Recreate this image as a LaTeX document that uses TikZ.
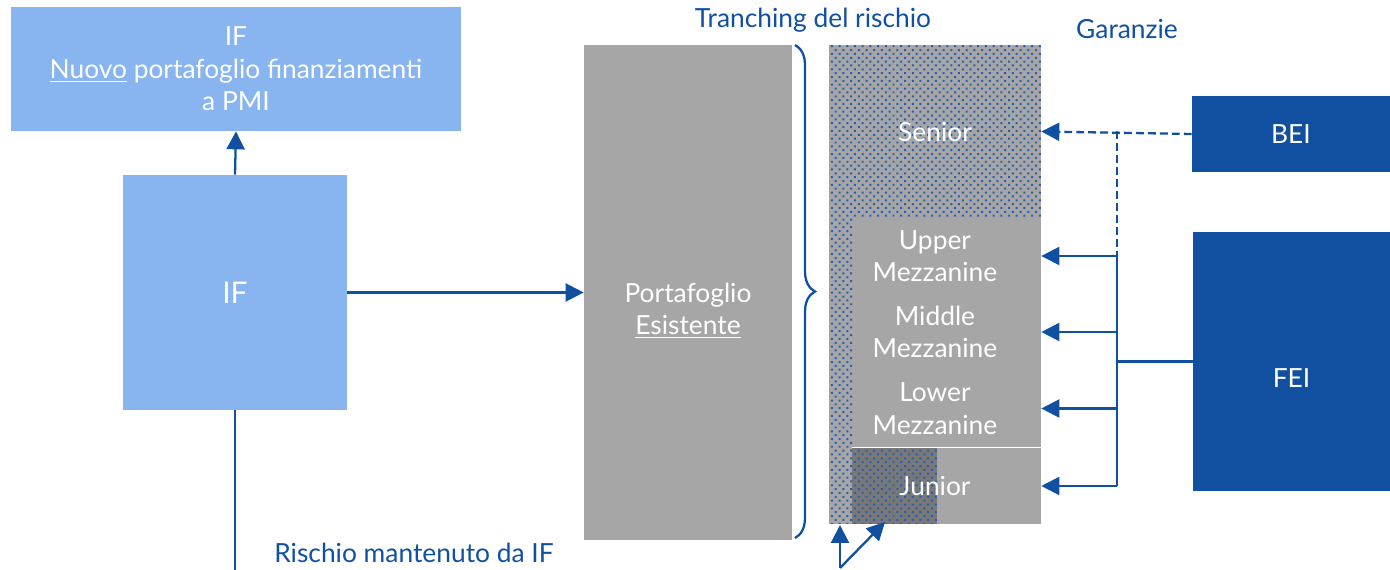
\documentclass[tikz,border=0pt]{standalone}
\usepackage{fontspec}
\setmainfont{Lato}
\usepackage{tikz}
\usepackage{color}
\usetikzlibrary{arrows, arrows.meta, patterns.meta, decorations.pathreplacing}
\definecolor{lightblue}{HTML}{88B4F0}
\definecolor{darkblue}{HTML}{1150A0}
\definecolor{dotblue}{HTML}{2A5EB0}
\definecolor{tgray}{HTML}{A6A6A6}
\definecolor{dgray}{HTML}{787878}
\tikzstyle{arrow} = [line width=1.3pt,-{Triangle[length=0.36cm,width=0.36cm]},darkblue]
\tikzstyle{link} = [line width=1.3pt,darkblue]
\tikzstyle{guarantee} = [dash pattern=on 4.5pt off 2.3pt]
\tikzstyle{lbox} = [fill=lightblue,text=white,align=center,inner sep=0pt]
\tikzstyle{dbox} = [fill=darkblue,text=white,align=center,inner sep=0pt]
\tikzstyle{tranche} = [text=white,align=center,inner sep=0pt,minimum width=4.24cm]
\tikzstyle{title} = [text=darkblue,inner sep=0pt]
\tikzstyle{dotted fill} = [pattern={Dots[radius=0.8pt,distance=3.1pt,angle=45]},pattern color=dotblue]

\begin{document}
\begin{tikzpicture}[x=0.02cm,y=-0.02cm,font=\fontsize{15}{18.5}\selectfont]
\useasboundingbox (0,0) rectangle (1390,570);

% left boxes
\node[lbox,minimum width=9cm,minimum height=2.48cm] (nuovo) at (236,69)
  {IF\\\underline{Nuovo} portafoglio finanziamenti\\a PMI};
\node[lbox,minimum width=4.48cm,minimum height=4.7cm,font=\fontsize{17}{20}\selectfont] (if) at (235,292.5) {IF};
\node[fill=tgray,text=white,align=center,inner sep=0pt,minimum width=4.16cm,minimum height=9.9cm,
  text height=2.2cm,text depth=0.5cm] (port) at (688,292.5)
  {Portafoglio\\\underline{Esistente}};

\draw[arrow] (if.north) -- (nuovo.south);
\draw[arrow] (if.east) -- (port.west);
\coordinate (down) at (235,570);
\draw[link] (if.south) -- (down);
\node[title] (rischio) at (414,553) {Rischio mantenuto da IF};

% brace
\draw[link,decorate,decoration={brace,amplitude=0.4cm}] (795,45) -- (795,538);
\node[title] (tranching) at (813,20) {Tranching del rischio};

% tranches
\fill[tgray] (829,45) rectangle (1041,524);
\fill[dotted fill] (829,45) rectangle (1041,218);
\fill[dotted fill] (829,218) rectangle (852,524);
\fill[dgray] (852,448) rectangle (937,524);
\fill[dotted fill] (852,448) rectangle (937,524);
\draw[white,thick] (852,447.5) -- (1041,447.5);

\node[tranche,minimum height=3.46cm] (senior) at (935,131.5) {Senior};
\node[tranche,minimum height=1.52cm] (upper) at (935,256) {Upper\\Mezzanine};
\node[tranche,minimum height=1.52cm] (middle) at (935,332) {Middle\\Mezzanine};
\node[tranche,minimum height=1.54cm] (lower) at (935,408.5) {Lower\\Mezzanine};
\node[tranche,minimum height=1.52cm] (junior) at (935,486) {Junior};

\coordinate (src) at (840,568);
\coordinate (t1) at (840,525);
\coordinate (t2) at (885,522);
\draw[arrow] (src) -- (t1);
\draw[arrow] (src) -- (t2);

% guarantees
\node[title] (garanzie) at (1127,29) {Garanzie};
\node[dbox,minimum width=3.96cm,minimum height=1.52cm] (bei) at (1291,134) {BEI};
\node[dbox,minimum width=3.94cm,minimum height=5.18cm,text height=1.06cm,text depth=0cm] (fei) at (1291.5,361.5) {FEI};

\coordinate (fk) at (1117,361.5);
\draw[arrow,guarantee] (bei.west) -- (senior.east);
\draw[link,guarantee] (fk |- senior.east) -- (fk |- upper.east);
\draw[link] (fei.west) -- (fk);
\draw[link] (fk |- upper.east) -- (fk |- junior.east);
\foreach \t in {upper,middle,lower,junior}
{
\draw[arrow] (fk |- \t.east) -- (\t.east);
}
\end{tikzpicture}
\end{document}
